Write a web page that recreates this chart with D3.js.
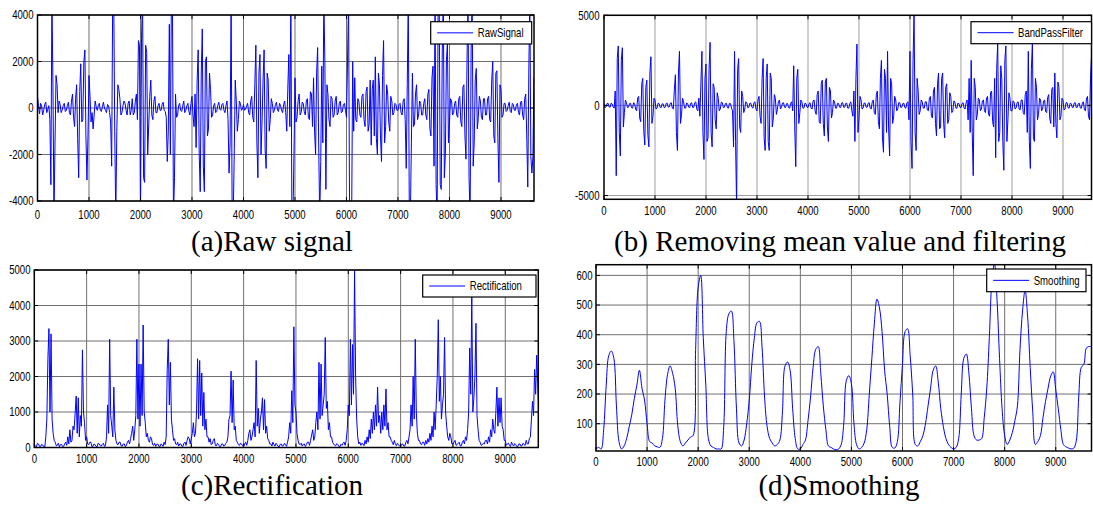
<!DOCTYPE html>
<meta charset="utf-8">
<body>
<script src="https://cdn.jsdelivr.net/npm/d3@7"></script>
<style>
    html, body {
        margin: 0;
        background: #fff;
    }
</style>
<script>
// signal samples are every `step` points along the x axis
var step = 20,
    smoothStep = 50;

var rawSignal = [
    500,100,-250,200,100,-300,-100,150,250,-200,-50,100,-500,-3300,4800,1000,-4800,-1500,1400,1000,-200,300,150,-200,-80,100,200,-150,-100,100,250,-200,-300,300,600,-400,-800,400,1000,-1300,-3000,700,1900,-600,-500,2000,2500,-1200,-3100,-1200,
    1400,500,-600,-200,-900,-300,300,50,-100,100,200,-100,-150,50,250,0,-100,-200,150,100,-200,-600,-2500,4800,4800,-1000,-4800,-1000,1000,800,400,-300,-200,100,300,200,-100,-300,200,300,-300,-100,400,-300,-200,300,600,-500,2900,2700,
    -4800,3000,4800,-3000,-3200,2700,2400,-2000,-700,500,1200,-300,-500,300,500,-200,-200,100,200,-100,-100,150,250,-100,-150,-400,-2300,-1000,3600,-2000,4800,4800,-4800,-3000,600,-400,-300,100,200,-100,-150,100,300,-200,-100,100,200,-150,-300,200,
    500,-300,-800,600,-1700,1200,2500,-2000,-3600,1500,3400,-2500,-3600,2000,2200,-1200,-900,1500,800,-400,-300,100,200,-200,-150,100,250,-50,-100,150,200,-100,-200,100,300,-500,-2800,-1500,4800,-4800,-4800,-2000,1200,300,-1000,-500,300,200,-100,-50,
    150,-100,-50,100,200,-200,-300,300,500,-400,-600,1000,2700,-1500,-3000,1500,2300,-2000,-600,1200,2500,-1800,-2600,1500,1200,-1000,-500,400,200,-200,-100,150,250,-100,-150,200,100,-100,-200,150,300,-200,-1000,800,2300,-800,4800,-4800,-4800,-2000,
    1300,-600,-400,300,600,-300,-200,250,200,-150,-300,300,400,-400,-500,700,600,-800,1300,-1000,-2000,1500,2600,-1500,-4800,-2300,1800,-1500,4800,2000,-3500,1000,600,-500,-800,500,400,-400,-300,300,500,-300,-200,200,300,-200,-150,150,200,-100,
    -400,2000,4800,-4800,-4800,-4800,2000,-1000,1300,-500,-600,400,300,-300,-400,500,600,-500,-800,700,900,-1000,-700,1200,-1600,800,1200,-1200,2200,-1300,-2000,1500,1000,-1200,-2300,1400,2900,-1500,-800,1000,600,-600,-1000,500,300,-300,-200,200,150,-100,
    -100,150,200,-200,-300,300,400,-500,-2600,1000,4800,-4800,-4800,-1500,1500,-800,-700,600,1000,-500,-300,300,200,-300,-300,200,400,-300,-500,600,800,-900,-1200,1300,1800,-2500,4800,-3300,-4800,4800,4800,-3300,-3500,2500,4800,-3000,-2000,2000,2800,-1500,
    -600,400,300,-300,-200,200,300,-300,-400,400,500,-600,-800,900,1000,-1200,-2200,2000,4800,-3000,-4800,2500,4800,-2500,-1500,1200,1700,-900,-400,500,300,-400,-500,400,400,-300,-300,400,500,-500,-600,1200,2000,-1200,-1500,1500,1600,-1300,-3200,1000,
    800,-400,-300,200,200,-150,-100,100,250,-150,-200,200,150,-100,-100,150,200,-200,-300,250,300,-300,-500,400,600,-1200,-3400,1500,4800,-2100,-2800,-2100,1300
];

var bandPass = [
    100,-120,-80,100,120,-90,-100,130,80,-100,-150,800,-3900,2600,3300,-1500,-2800,2500,3200,-1200,-400,300,150,-120,-100,100,120,-130,-150,150,100,-200,-300,400,500,-700,-900,1200,1500,-1400,-2200,1000,1400,-1600,-2300,1800,2700,-1000,-600,400,
    300,-200,-150,120,100,-100,-120,90,80,-130,-100,110,120,-100,-80,120,150,-150,-200,900,1700,-1500,-2500,1800,3000,-1000,-500,400,200,-150,-150,130,100,-100,-120,120,150,-130,-100,150,200,-200,-300,400,-600,1200,3000,-1500,-3000,1500,
    2300,-2000,-1800,2000,3500,-1500,-2300,1200,1000,-800,-1300,700,400,-300,-200,180,150,-120,-100,100,120,-130,-150,120,100,-150,-300,-2300,3000,-2000,-5600,2000,2600,-1200,-1500,800,500,-400,-200,200,150,-130,-100,120,120,-100,-150,150,200,-200,
    -300,300,500,-600,-1000,1500,2600,-1800,-2500,1500,2300,-2000,-2500,1800,1500,-1200,-700,600,400,-500,-200,200,300,-200,-100,130,150,-100,-120,100,100,-130,-150,120,200,-300,2200,-1200,-3400,1500,2000,-1000,-400,300,200,-150,-150,120,100,-100,
    -120,100,150,-150,-200,250,300,-300,-500,600,800,-900,-1000,1200,1400,-1000,-1700,1300,1500,-1200,-2000,1000,800,-700,-400,300,200,-150,-150,120,100,-100,-120,130,150,-100,-100,120,120,-150,-150,100,200,-300,-600,800,-2000,1500,3400,-1500,
    -700,500,300,-200,-150,130,120,-100,-100,120,150,-150,-200,200,300,-400,-500,600,800,-900,-1300,1500,2500,-1800,-2600,2000,1500,-1500,3000,-1200,-2800,1500,1200,-1000,-600,500,300,-300,-200,150,150,-120,-100,100,120,-130,-150,150,200,-800,
    3000,-2000,-3500,2500,5200,-1500,-2500,1500,800,-500,-300,300,200,-150,-150,200,200,-250,-300,400,500,-600,-700,800,1000,-1000,-1700,1200,1800,-1300,-1200,1500,1800,-1000,-1800,1000,1200,-1000,-800,700,500,-400,-300,250,200,-150,-150,130,100,-100,
    -120,100,150,-130,-200,150,300,-800,1500,-1500,2500,-1500,-3900,1500,1000,-800,-500,400,300,-300,-200,250,300,-300,-400,400,500,-500,-600,700,800,-900,-1200,1500,-2900,2000,3500,-2000,-1500,2200,1500,-2000,-3600,2500,3300,-2000,-800,700,400,-300,
    -300,250,200,-200,-150,150,200,-200,-250,300,300,-400,-500,600,800,-1500,3000,-2000,-3500,2000,3500,-1800,-2000,1500,1000,-800,-500,400,300,-300,-200,250,300,-350,-400,450,600,-700,-1000,900,1000,-1200,1800,-1000,-1800,1300,1000,-800,-600,400,
    300,-250,-200,150,150,-130,-150,120,100,-100,-120,130,150,-120,-100,100,120,-150,-150,130,200,-250,-300,350,500,-600,-800,1500,2800,-1500,-2400,1800,1500
];

var rectified = [
    80,40,20,120,100,30,30,90,70,20,10,300,800,2500,3350,1000,3200,800,400,200,150,50,60,120,20,80,90,30,30,100,150,60,300,100,500,150,200,600,500,950,1450,400,1400,300,900,600,2750,1000,700,200,
    300,100,80,150,150,30,30,100,80,30,20,120,100,50,40,90,120,30,50,300,1200,400,3050,900,600,300,1700,500,200,100,80,150,150,40,40,100,100,20,60,150,200,100,250,400,600,200,500,900,3050,800,
    2350,600,2350,900,3450,1000,700,300,400,200,150,300,250,80,60,120,30,90,100,40,20,100,80,30,150,80,300,2200,3050,1200,2400,800,500,200,250,100,80,150,40,100,100,40,30,120,150,60,200,300,250,100,
    250,400,700,300,400,1000,2500,800,2450,900,2100,600,1550,500,800,300,300,150,250,80,100,200,250,60,50,120,80,30,30,100,100,40,60,120,150,300,800,900,2150,700,1900,500,600,200,150,80,60,120,100,50,
    30,100,150,60,200,400,500,200,300,500,700,300,2450,600,1100,400,800,1000,1400,500,1350,400,600,250,200,100,100,40,150,80,40,120,80,30,20,90,100,40,50,120,80,30,150,300,700,400,1600,700,3400,1200,
    1000,400,200,100,80,120,40,90,100,30,80,150,150,60,200,350,500,200,300,700,1000,500,2400,800,2350,900,1200,1500,3100,1100,1300,500,700,300,300,150,100,60,50,110,80,30,20,90,60,120,150,60,200,500,
    1200,900,3050,1200,2900,1500,5000,2000,800,300,100,150,60,120,100,50,200,100,300,150,500,250,800,400,1000,500,1200,600,1700,700,900,400,1000,500,1200,600,1650,500,700,300,300,200,150,80,200,100,50,120,80,40,
    30,90,100,40,40,150,200,100,300,500,1200,600,2000,800,3050,1000,400,200,200,100,80,150,150,60,200,100,250,150,400,200,600,300,1000,500,1200,2000,3600,1300,2000,800,1200,1500,3100,1000,600,300,200,400,300,100,
    100,150,200,60,80,120,150,40,50,150,200,100,300,200,500,1000,2800,1500,4300,1000,1400,2000,3500,900,500,200,150,60,80,120,100,200,200,100,300,150,500,300,800,500,400,1000,1700,600,1400,700,1400,600,500,200,
    200,60,100,120,60,30,150,80,40,110,80,30,30,100,100,40,50,120,80,60,200,100,100,250,300,800,1300,900,2200,1500,2600,1800,1000
];

var smoothed = [
    15,20,15,80,230,330,345,320,160,40,15,25,50,90,130,185,230,280,220,180,
    100,40,35,25,22,20,50,180,265,295,270,220,95,40,25,35,45,55,60,350,
    560,600,390,230,50,25,20,15,15,15,90,410,470,480,380,150,35,25,45,100,
    180,300,390,440,445,360,190,90,50,35,25,30,45,140,295,308,280,150,50,15,
    15,30,45,110,190,290,350,360,270,160,80,25,20,15,12,15,30,100,245,262,
    235,100,30,15,20,35,80,200,320,440,520,490,410,280,200,90,20,18,40,170,
    300,410,420,330,200,30,25,40,60,100,160,220,280,295,240,150,90,50,30,20,
    15,20,50,200,320,335,270,150,60,45,45,50,120,220,390,580,640,520,320,150,
    60,30,45,70,110,160,350,480,550,460,290,140,30,40,60,120,175,220,260,275,
    215,150,80,30,22,18,15,17,40,190,290,300,355,360,360
];

var xTicks = [0, 1000, 2000, 3000, 4000, 5000, 6000, 7000, 8000, 9000];
var rawTicks = [-4000, -2000, 0, 2000, 4000];
var bandTicks = [-5000, 0, 5000];
var rectTicks = [0, 1000, 2000, 3000, 4000, 5000];
var smoothTicks = [100, 200, 300, 400, 500, 600];

var legendNames = ["RawSignal", "BandPassFilter", "Rectification", "Smoothing"];
var captions = ["(a)Raw signal", "(b) Removing mean value and filtering", "(c)Rectification", "(d)Smoothing"];

var smallFont = "Liberation Sans, Arial, sans-serif",
    capFont = "Liberation Serif, Times New Roman, serif",
    squeeze = 0.8;

var svg = d3.select("body").append("svg")
    .attr("width", 1093)
    .attr("height", 505);

var panels = [
    {data: rawSignal, dx: step, ticks: rawTicks, yDom: [-4000, 4000], xMax: 9641,
     l: 37.5, r: 534, t: 15, b: 201, grid: "#707070", xLabY: 218.5, yLabX: 33.5,
     leg: [430.7, 21.7, 101, 22.3], capX: 272, capY: 251},
    {data: bandPass, dx: step, ticks: bandTicks, yDom: [-5210, 5000], xMax: 9559,
     l: 604, r: 1091.5, t: 15.3, b: 199.3, grid: "#a0a0a0", xLabY: 215, yLabX: 599.5,
     leg: [971, 21.7, 120.5, 22], capX: 840, capY: 251},
    {data: rectified, dx: step, ticks: rectTicks, yDom: [0, 5000], xMax: 9631,
     l: 34.3, r: 538.3, t: 270, b: 447.5, grid: "#707070", xLabY: 463, yLabX: 30.5,
     leg: [422.7, 275, 113.3, 22], capX: 272, capY: 495},
    {data: smoothed, dx: smoothStep, ticks: smoothTicks, yDom: [8, 636], xMax: 9700,
     l: 596, r: 1091.5, t: 264.7, b: 451, grid: "#707070", xLabY: 466, yLabX: 592.5,
     leg: [986.7, 269, 99.3, 22.7], capX: 839, capY: 495, smooth: true}
];

// narrow label: squeeze a normal sans horizontally
function label(sel, x, y, txt, anchor) {
    return sel.append("text")
        .attr("transform", "translate(" + x + "," + y + ") scale(" + squeeze + ",1)")
        .attr("font-family", smallFont)
        .attr("font-size", 12)
        .attr("text-anchor", anchor)
        .attr("fill", "#000")
        .text(txt);
}

panels.forEach(function(p, i) {
    var x = d3.scaleLinear().domain([0, p.xMax]).range([p.l, p.r]),
        y = d3.scaleLinear().domain(p.yDom).range([p.b, p.t]);

    var g = svg.append("g");

    g.append("clipPath").attr("id", "clip" + i)
        .append("rect")
        .attr("x", p.l).attr("y", p.t)
        .attr("width", p.r - p.l).attr("height", p.b - p.t);

    // grid
    g.selectAll(".vgrid").data(xTicks.filter(function(d) { return d > 0; }))
        .enter().append("line")
        .attr("x1", function(d) { return x(d); }).attr("x2", function(d) { return x(d); })
        .attr("y1", p.t).attr("y2", p.b)
        .attr("stroke", p.grid).attr("stroke-width", 1);

    g.selectAll(".hgrid").data(p.ticks)
        .enter().append("line")
        .attr("x1", p.l).attr("x2", p.r)
        .attr("y1", function(d) { return y(d); }).attr("y2", function(d) { return y(d); })
        .attr("stroke", p.grid).attr("stroke-width", 1);

    // signal
    var line = d3.line()
        .x(function(d, k) { return x(k * p.dx); })
        .y(function(d) { return y(d); });
    if (p.smooth) line.curve(d3.curveCatmullRom);

    g.append("path")
        .datum(p.data)
        .attr("clip-path", "url(#clip" + i + ")")
        .attr("fill", "none")
        .attr("stroke", "#0000ff")
        .attr("stroke-width", 1)
        .attr("d", line);

    // box
    g.append("rect")
        .attr("x", p.l).attr("y", p.t)
        .attr("width", p.r - p.l).attr("height", p.b - p.t)
        .attr("fill", "none").attr("stroke", "#000").attr("stroke-width", 1.5);

    // inward ticks
    xTicks.forEach(function(d) {
        g.append("line").attr("x1", x(d)).attr("x2", x(d)).attr("y1", p.b).attr("y2", p.b - 4).attr("stroke", "#000");
        g.append("line").attr("x1", x(d)).attr("x2", x(d)).attr("y1", p.t).attr("y2", p.t + 4).attr("stroke", "#000");
    });
    p.ticks.forEach(function(d) {
        g.append("line").attr("x1", p.l).attr("x2", p.l + 4).attr("y1", y(d)).attr("y2", y(d)).attr("stroke", "#000");
        g.append("line").attr("x1", p.r).attr("x2", p.r - 4).attr("y1", y(d)).attr("y2", y(d)).attr("stroke", "#000");
    });

    // tick labels
    xTicks.forEach(function(d) { label(g, x(d), p.xLabY, d, "middle"); });
    p.ticks.forEach(function(d) { label(g, p.yLabX, y(d) + 4.3, d, "end"); });

    // legend
    var lg = p.leg;
    g.append("rect")
        .attr("x", lg[0]).attr("y", lg[1]).attr("width", lg[2]).attr("height", lg[3])
        .attr("fill", "#fff").attr("stroke", "#000").attr("stroke-width", 1.2);
    g.append("line")
        .attr("x1", lg[0] + 6.5).attr("x2", lg[0] + 42.5)
        .attr("y1", lg[1] + lg[3] / 2).attr("y2", lg[1] + lg[3] / 2)
        .attr("stroke", "#0000ff").attr("stroke-width", 1);
    label(g, lg[0] + 47, lg[1] + lg[3] / 2 + 4.3, legendNames[i], "start");

    // caption
    svg.append("text")
        .attr("x", p.capX)
        .attr("y", p.capY)
        .attr("font-family", capFont)
        .attr("font-size", 29)
        .attr("text-anchor", "middle")
        .attr("fill", "#000")
        .text(captions[i]);
});
</script>
